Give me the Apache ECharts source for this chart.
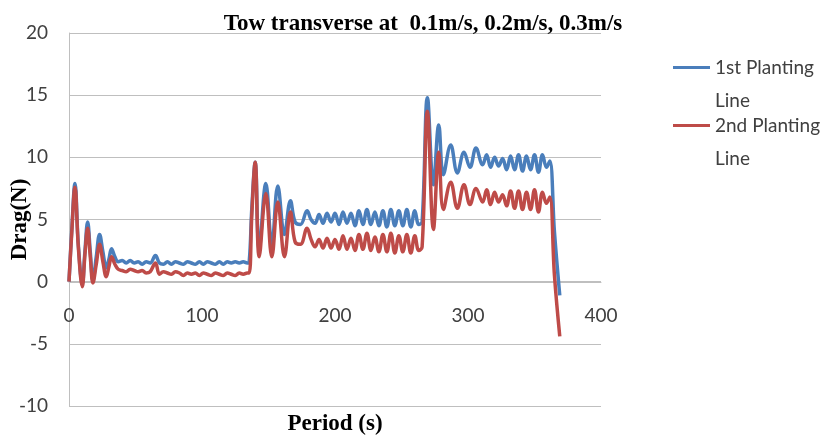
<!DOCTYPE html>
<html>
<head>
<meta charset="utf-8">
<script src="https://cdn.jsdelivr.net/npm/echarts@6/dist/echarts.min.js"></script>
<style>
html, body { margin: 0; padding: 0; background: #fff; }
#main { width: 834px; height: 438px; }
</style>
</head>
<body>
<div id="main"></div>
<script>
var chart = echarts.init(document.getElementById('main'));

// time (s)
var times = [
    0, 2, 4.5, 7, 10, 12, 14, 16, 18, 20.5, 23, 25.5, 28, 30, 32, 34.5, 37, 40, 43, 46,
    49, 52, 55, 58, 61, 65, 68, 71, 74, 77, 80, 83, 86, 89, 92, 95, 98, 101, 104, 107,
    110, 113, 116, 119, 122, 125, 128, 131, 134,
    135.5, 137.5, 140, 143, 148, 152.5, 157, 162, 166.5, 170, 174, 179, 182,
    185, 188, 191, 194, 197, 200, 203, 206, 209, 212, 215, 218, 221, 224, 227, 230,
    233, 236, 239, 242, 245, 248, 251, 254, 257, 260, 263,
    265.5, 269.5, 274, 278, 281.5, 287, 292, 297, 301.5, 306, 311,
    314, 317, 320, 323, 326, 329, 332, 335, 338, 341, 344, 347, 350, 353, 356, 359, 361.5,
    365, 369
];

// 1st planting line drag (N)
var drag1 = [
    0, 4.0, 7.9, 3.0, -0.2, 2.5, 4.8, 2.4, 0.1, 2.0, 3.8, 2.4, 1.1, 1.8, 2.65, 2.0, 1.6, 1.7, 1.5, 1.7,
    1.5, 1.6, 1.4, 1.6, 1.5, 2.1, 1.5, 1.4, 1.6, 1.4, 1.6, 1.5, 1.4, 1.6, 1.5, 1.4, 1.6, 1.4, 1.6, 1.5,
    1.4, 1.6, 1.4, 1.6, 1.5, 1.6, 1.5, 1.6, 1.5,
    1.6, 6.0, 9.6, 2.6, 7.9, 3.0, 7.7, 3.8, 6.5, 4.8, 4.6, 5.7, 5.0,
    4.7, 5.4, 4.7, 5.5, 4.8, 5.5, 4.6, 5.6, 4.7, 5.5, 4.5, 5.7, 4.6, 5.8, 4.6, 5.6,
    4.5, 5.7, 4.4, 5.8, 4.5, 5.7, 4.5, 5.8, 4.4, 5.7, 4.6,
    4.8, 14.8, 7.8, 12.6, 8.6, 11.0, 8.75, 10.4, 9.2, 10.75, 9.4,
    10.2, 9.2, 10.0, 9.3, 9.9, 9.0, 10.1, 9.0, 10.2, 8.9, 10.1, 9.0, 10.2, 8.8, 10.2, 9.2, 9.7,
    4.0, -1.1
];

// 2nd planting line drag (N)
var drag2 = [
    0, 3.8, 7.6, 2.8, -0.4, 2.2, 4.3, 2.0, -0.1, 1.4, 3.0, 1.6, 0.4, 1.2, 2.0, 1.4, 1.0, 0.9, 0.8, 1.0,
    0.9, 0.8, 0.9, 0.7, 0.8, 1.5, 0.6, 0.8, 0.7, 0.6, 0.8, 0.7, 0.5, 0.7, 0.6, 0.7, 0.5, 0.7, 0.6, 0.5,
    0.7, 0.6, 0.5, 0.7, 0.6, 0.5, 0.7, 0.6, 0.7,
    0.7, 5.5, 9.6, 2.0, 7.1, 2.0, 6.4, 2.0, 5.6, 3.2, 3.0, 4.3, 3.4,
    2.8, 3.4, 2.7, 3.5, 2.7, 3.4, 2.6, 3.7, 2.6, 3.5, 2.5, 3.8, 2.6, 3.9, 2.5, 3.6,
    2.4, 3.8, 2.4, 3.9, 2.3, 3.7, 2.4, 3.8, 2.3, 3.7, 2.5,
    2.8, 13.7, 4.2, 10.4, 5.8, 8.0, 5.9, 7.8, 6.2, 7.5, 6.4,
    7.4, 6.2, 7.2, 6.4, 7.0, 6.1, 7.3, 5.9, 7.3, 5.8, 7.2, 5.8, 7.4, 5.6, 7.2, 6.3, 6.8,
    0.5, -4.4
];

var seriesNames = ['1st Planting Line', '2nd Planting Line'];

function pairs(vals) {
    var res = [];
    for (var i = 0; i < times.length; i++) {
        res.push([times[i], vals[i]]);
    }
    return res;
}

var labelFont = 'Lato, "Open Sans", sans-serif';
var serifFont = '"Liberation Serif", "Times New Roman", serif';

// blank first line so the icon sits beside the first text line
var legendBase = {
    orient: 'vertical',
    left: 673,
    padding: 0,
    icon: 'rect',
    itemWidth: 37,
    itemHeight: 3,
    formatter: function (name) { return ' \n' + name.replace(' Line', '\nLine'); },
    textStyle: {
        fontFamily: labelFont,
        fontSize: 19,
        color: '#404040',
        lineHeight: 33
    }
};

var option = {
    animation: false,
    title: {
        text: 'Tow transverse at  0.1m/s, 0.2m/s, 0.3m/s',
        left: 418,
        textAlign: 'center',
        top: 8,
        textStyle: {
            fontFamily: serifFont,
            fontWeight: 'bold',
            fontSize: 23,
            color: '#000'
        }
    },
    legend: [
        Object.assign({}, legendBase, { top: 18, data: [seriesNames[0]] }),
        Object.assign({}, legendBase, { top: 76, data: [seriesNames[1]] })
    ],
    grid: {
        left: 69,
        right: 233,
        top: 33,
        bottom: 32,
        outerBoundsMode: 'none',
        containLabel: false
    },
    xAxis: {
        type: 'value',
        min: 0,
        max: 400,
        interval: 100,
        offset: -124,
        name: 'Period (s)',
        nameLocation: 'middle',
        nameGap: 131,
        nameMoveOverlap: false,
        nameTextStyle: {
            fontFamily: serifFont,
            fontWeight: 'bold',
            fontSize: 23,
            color: '#000'
        },
        axisLine: { show: true, onZero: false, lineStyle: { color: '#bfbfbf', width: 1 } },
        axisTick: { show: false },
        splitLine: { show: false },
        axisLabel: {
            margin: 24,
            fontFamily: labelFont,
            fontSize: 19,
            color: '#404040'
        }
    },
    yAxis: {
        type: 'value',
        min: -10,
        max: 20,
        interval: 5,
        name: 'Drag(N)',
        nameLocation: 'middle',
        nameGap: 37,
        nameMoveOverlap: false,
        nameTextStyle: {
            fontFamily: serifFont,
            fontWeight: 'bold',
            fontSize: 23,
            color: '#000'
        },
        axisLine: { show: true, onZero: false, lineStyle: { color: '#bfbfbf', width: 1 } },
        axisTick: { show: false },
        splitLine: { show: true, lineStyle: { color: '#bfbfbf', width: 1 } },
        axisLabel: {
            margin: 21,
            fontFamily: labelFont,
            fontSize: 19,
            color: '#404040'
        }
    },
    series: [
        {
            name: seriesNames[0],
            type: 'line',
            data: pairs(drag1),
            smooth: 0.4,
            symbol: 'none',
            lineStyle: { color: '#4a7ebb', width: 3.5 },
            itemStyle: { color: '#4a7ebb' }
        },
        {
            name: seriesNames[1],
            type: 'line',
            data: pairs(drag2),
            smooth: 0.4,
            symbol: 'none',
            lineStyle: { color: '#be4b48', width: 3.5 },
            itemStyle: { color: '#be4b48' }
        }
    ]
};

chart.setOption(option);
</script>
</body>
</html>
